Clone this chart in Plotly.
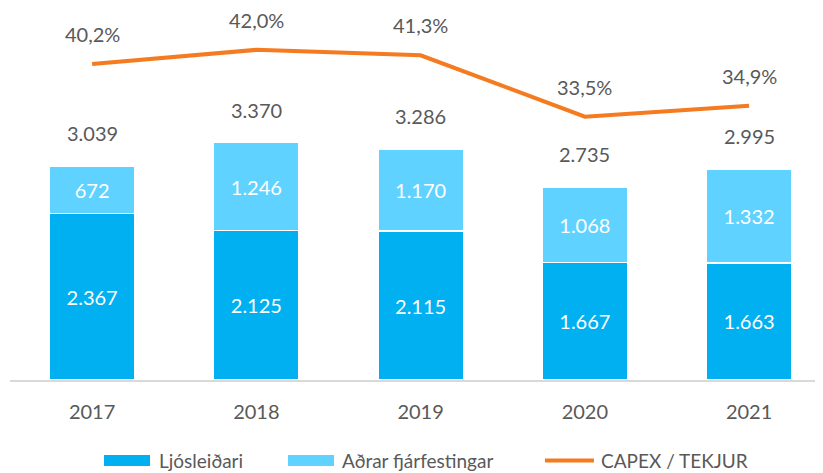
import plotly.graph_objects as go

years = ["2017", "2018", "2019", "2020", "2021"]
ljosleidari = [2367, 2125, 2115, 1667, 1663]
adrar = [672, 1246, 1170, 1068, 1332]
totals = [3039, 3370, 3286, 2735, 2995]
capex_ratio = [40.2, 42.0, 41.3, 33.5, 34.9]

FONT = "Lato, 'Open Sans', sans-serif"
GRAY = "#595959"
C1 = "#00B0F0"
C2 = "#60D2FF"
C3 = "#F47B20"

# page has an 8px body margin; figure is sized to compensate
OFF = 8
L, PW, B, PH = 10 - OFF, 813, 380 - OFF, 370
T = B - PH
W, H = 823 - OFF, 473 - OFF

fig = go.Figure()
fig.add_trace(go.Bar(
    x=years, y=ljosleidari, name="Ljósleiðari",
    marker=dict(color=C1, line=dict(color="white", width=1.5)),
    texttemplate="%{y:,}", textposition="inside", insidetextanchor="middle",
    textfont=dict(color="white", size=20, family=FONT), width=0.52,
    showlegend=False,
))
fig.add_trace(go.Bar(
    x=years, y=adrar, name="Aðrar fjárfestingar",
    marker=dict(color=C2, line=dict(color="white", width=1.5)),
    texttemplate="%{y:,}", textposition="inside", insidetextanchor="middle",
    textfont=dict(color="white", size=20, family=FONT), width=0.52,
    showlegend=False,
))
fig.add_trace(go.Scatter(
    x=years, y=[v / 100 for v in capex_ratio], name="CAPEX / TEKJUR",
    mode="lines", line=dict(color=C3, width=4), yaxis="y2", showlegend=False,
))

annotations = []
for i, t in enumerate(totals):
    annotations.append(dict(
        x=i, y=t, xref="x", yref="y", yshift=33, showarrow=False,
        text=f"{t:,}".replace(",", "."),
        font=dict(size=20, color=GRAY, family=FONT),
    ))
for i, r in enumerate(capex_ratio):
    annotations.append(dict(
        x=i, y=r / 100, xref="x", yref="y2", yshift=30, showarrow=False,
        text=f"{r:.1f}%".replace(".", ","),
        font=dict(size=20, color=GRAY, family=FONT),
    ))

# custom legend (page pixel -> paper conversion)
def px(x):
    return (x - OFF - L) / PW
def py(y):
    return (B - (y - OFF)) / PH

shapes = [
    dict(type="rect", xref="paper", yref="paper", x0=px(104), x1=px(150),
         y0=py(466), y1=py(455), fillcolor=C1, line=dict(width=0)),
    dict(type="rect", xref="paper", yref="paper", x0=px(288), x1=px(334),
         y0=py(466), y1=py(455), fillcolor=C2, line=dict(width=0)),
    dict(type="line", xref="paper", yref="paper", x0=px(545), x1=px(594),
         y0=py(460.5), y1=py(460.5), line=dict(color=C3, width=4)),
]
legend_items = [("Ljósleiðari", 157), ("Aðrar fjárfestingar", 340), ("CAPEX / TEKJUR", 599)]
for txt, x0 in legend_items:
    annotations.append(dict(
        x=px(x0), y=py(460), xref="paper", yref="paper", xanchor="left",
        yanchor="middle", showarrow=False, text=txt,
        font=dict(size=19, color=GRAY, family=FONT),
    ))

hidden = dict(showgrid=False, showticklabels=False, showline=False,
              zeroline=False, ticks="")
fig.update_layout(
    width=W, height=H,
    margin=dict(l=L, r=0, t=T, b=H - B, pad=0),
    barmode="stack",
    separators=",.",
    plot_bgcolor="white", paper_bgcolor="white",
    font=dict(family=FONT, color=GRAY, size=20),
    xaxis=dict(type="category", range=[-0.5, 4.45], showgrid=False,
               showline=True, linecolor="#D9D9D9", linewidth=2,
               ticks="", ticklabelstandoff=13,
               tickfont=dict(size=20, color=GRAY, family=FONT)),
    yaxis=dict(range=[0, 5256], **hidden),
    yaxis2=dict(range=[0, 0.4707], overlaying="y", **hidden),
    annotations=annotations, shapes=shapes,
)

fig.write_html("out.html")
